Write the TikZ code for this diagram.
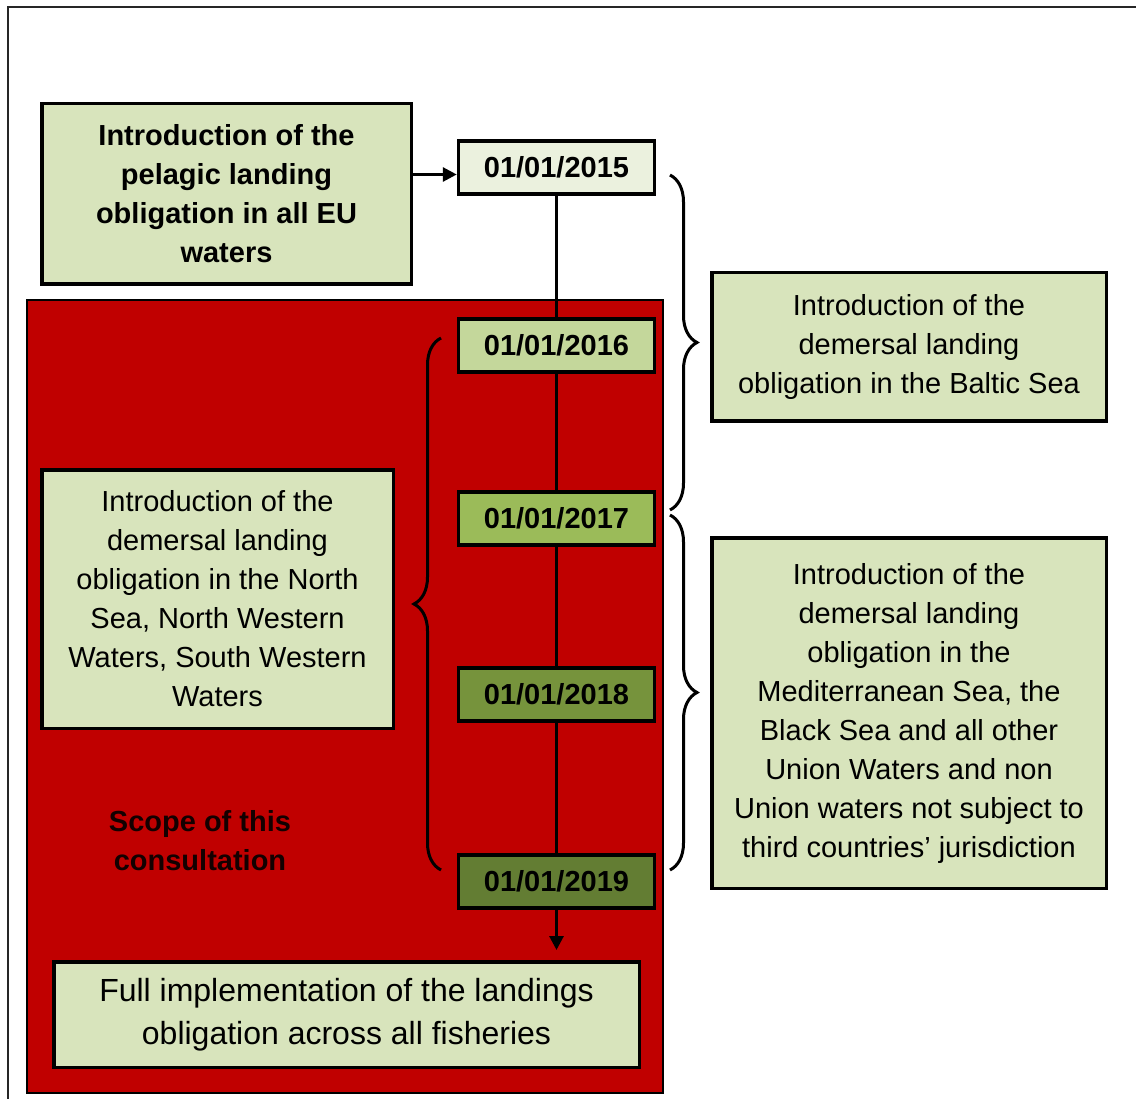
\documentclass[tikz,border=0pt]{standalone}
\usepackage{fontspec}
\setmainfont{Liberation Sans}
\usetikzlibrary{calc,arrows.meta,decorations.pathreplacing}
\definecolor{boxgreen}{HTML}{D8E4BC}
\definecolor{scopered}{HTML}{C00000}
\definecolor{year15}{HTML}{EBF1DE}
\definecolor{year16}{HTML}{C4D79B}
\definecolor{year17}{HTML}{9BBB59}
\definecolor{year18}{HTML}{76933C}
\definecolor{year19}{HTML}{637D33}
\tikzstyle{infobox} = [rectangle, draw, line width=3.5pt, fill=boxgreen, align=center, text centered, inner sep=0pt, font=\fontsize{29}{39}\selectfont]
\tikzstyle{datebox} = [rectangle, draw, line width=3.5pt, text centered, minimum width=196pt, minimum height=53pt, inner sep=0pt, font=\fontsize{29}{35}\selectfont\bfseries]
\tikzstyle{connector} = [line width=3pt, ->, >={Triangle[length=14pt,width=14pt]}]
\tikzstyle{bracket} = [line width=3pt, decorate, decoration={brace, amplitude=27pt}]

\begin{document}
\begin{tikzpicture}[x=1pt, y=-1pt]
        \clip (0,0) rectangle (1136,1099);
        \draw [line width=2pt, black!85] (8,7) rectangle (1150,1110);
        \draw [line width=2pt, fill=scopered] (27,300) rectangle (663,1093);
        \node (pelagic) [infobox, font=\fontsize{29}{39}\selectfont\bfseries, minimum width=369.5pt, minimum height=180.5pt] at (226.5,194) {Introduction of the\\pelagic landing\\obligation in all EU\\waters};
        \node (d2015) [datebox, fill=year15] at (556.5,167.5) {01/01/2015};
        \node (d2016) [datebox, fill=year16] at (556.5,345.5) {01/01/2016};
        \node (d2017) [datebox, fill=year17] at (556.5,518.5) {01/01/2017};
        \node (d2018) [datebox, fill=year18] at (556.5,694.5) {01/01/2018};
        \node (d2019) [datebox, fill=year19] at (556.5,881.5) {01/01/2019};
        \node (full) [infobox, font=\fontsize{32}{43}\selectfont, minimum width=585.5pt, minimum height=105.5pt] at (346.5,1014.5) {Full implementation of the landings\\obligation across all fisheries};
        \node (northsea) [infobox, minimum width=351.5pt, minimum height=258.5pt] at (217.5,599) {Introduction of the\\demersal landing\\obligation in the North\\Sea, North Western\\Waters, South Western\\Waters};
        \node (scope) [align=center, font=\fontsize{29}{39}\selectfont\bfseries, text=black!90!scopered] at (200,841) {Scope of this\\consultation};
        \node (baltic) [infobox, minimum width=394.5pt, minimum height=148.5pt] at (909,347) {Introduction of the\\demersal landing\\obligation in the Baltic Sea};
        \node (medsea) [infobox, minimum width=394.5pt, minimum height=350.5pt] at (909,713) {Introduction of the\\demersal landing\\obligation in the\\Mediterranean Sea, the\\Black Sea and all other\\Union Waters and non\\Union waters not subject to\\third countries’ jurisdiction};
        \coordinate (arrowend) at ($(d2019.south |- full.north)+(0,-10)$);
        \draw [connector] ([yshift=-7pt]d2015.west -| pelagic.east) -- ([yshift=-7pt]d2015.west);
        \draw [line width=3pt] (d2015.south) -- (d2016.north);
        \draw [line width=3pt] (d2016.south) -- (d2017.north);
        \draw [line width=3pt] (d2017.south) -- (d2018.north);
        \draw [line width=3pt] (d2018.south) -- (d2019.north);
        \draw [connector] (d2019.south) -- (arrowend);
        % braces
        \draw [bracket] (670,175) -- (670,510);
        \draw [bracket] (670,515) -- (670,870);
        \draw [bracket] (441,870) -- (441,338);
    \end{tikzpicture}
\end{document}
